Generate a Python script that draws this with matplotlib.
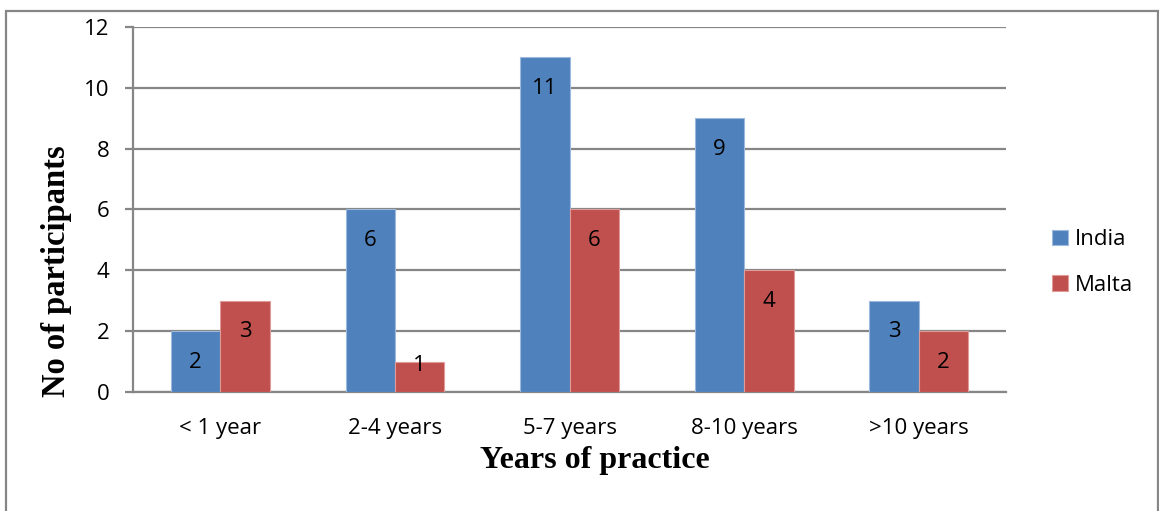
import numpy as np
import matplotlib.pyplot as plt
from matplotlib.patches import Rectangle

# Years of practice, participants per country
categories = ['< 1 year', '2-4 years', '5-7 years', '8-10 years', '>10 years']
india = [2, 6, 11, 9, 3]
malta = [3, 1, 6, 4, 2]

colors = {'India': '#4F81BD', 'Malta': '#C0504D'}
edges = {'India': '#9DB9DE', 'Malta': '#E09A98'}
grid_col = '#868686'
fs = 16

fig = plt.figure(figsize=(11.59, 5.11), dpi=100)
ax = fig.add_axes([0.1148, 0.2329, 0.868 - 0.1148, 0.9472 - 0.2329])

x = np.arange(len(categories))
w = 0.283
for vals, name, off in [(india, 'India', -w / 2), (malta, 'Malta', w / 2)]:
    bars = ax.bar(x + off, vals, width=w, color=colors[name], edgecolor=edges[name],
                  linewidth=0.8, label=name, zorder=3)
    for b, v in zip(bars, vals):
        # labels sit inside the bar end; short bars get them nearer the top
        dy = -22.5 if v >= 2 else -3
        ax.annotate(str(v), (b.get_x() + b.get_width() / 2, v), xytext=(0, dy),
                    textcoords='offset points', ha='center', va='center',
                    fontsize=fs, family='Open Sans', color='black', zorder=4)

ax.set_xlim(-0.5, len(categories) - 0.5)
ax.set_ylim(0, 12)
ax.set_yticks(range(0, 13, 2))
ax.set_xticks(x)
ax.set_xticklabels(categories)
ax.yaxis.grid(True, color=grid_col, linewidth=1.6, zorder=0)
ax.set_axisbelow(True)

for s in ['top', 'right']:
    ax.spines[s].set_visible(False)
for s in ['left', 'bottom']:
    ax.spines[s].set_color(grid_col)
    ax.spines[s].set_linewidth(1.6)

ax.tick_params(axis='y', length=6, width=1.6, color=grid_col, pad=11,
               labelsize=fs, labelfontfamily='Open Sans')
ax.tick_params(axis='x', length=0, pad=19, labelsize=fs, labelfontfamily='Open Sans')

ax.set_ylabel('No of participants', fontsize=23.5, fontweight='bold',
              family='Liberation Serif')
ax.yaxis.set_label_coords(-0.07, 0.33)
ax.set_xlabel('Years of practice', fontsize=23, fontweight='bold',
              family='Liberation Serif')
ax.xaxis.set_label_coords(0.529, -0.148)

leg = ax.legend(loc='center left', bbox_to_anchor=(1.03, 0.355), frameon=False,
                prop={'family': 'Open Sans', 'size': fs}, handlelength=0.7,
                handleheight=0.7, handletextpad=0.3, labelspacing=1.1)

# outer chart border
fig.patches.append(Rectangle((6 / 1159, -0.1), 1152 / 1159, 1.1 - 11 / 511,
                             transform=fig.transFigure, fill=False,
                             edgecolor=grid_col, linewidth=1.6))

fig.savefig('out.png', dpi=100)
